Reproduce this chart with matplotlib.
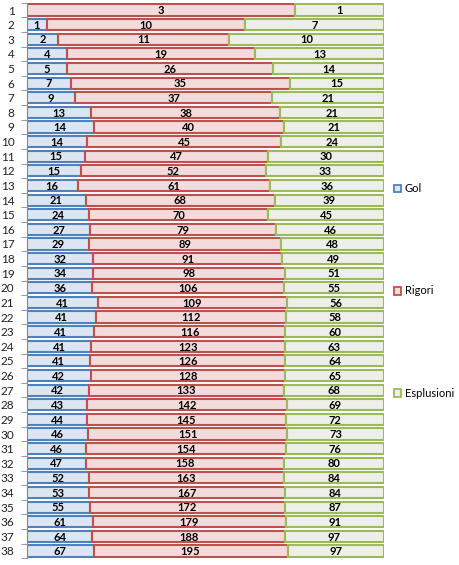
import matplotlib
matplotlib.use("Agg")
import matplotlib.pyplot as plt
from matplotlib.patches import Patch
import numpy as np

# rounds 1..38, top to bottom
rounds = [str(i) for i in range(1, 39)]
gol = [0, 1, 2, 4, 5, 7, 9, 13, 14, 14, 15, 15, 16, 21, 24, 27, 29, 32, 34, 36,
       41, 41, 41, 41, 41, 42, 42, 43, 44, 46, 46, 47, 52, 53, 55, 61, 64, 67]
rigori = [3, 10, 11, 19, 26, 35, 37, 38, 40, 45, 47, 52, 61, 68, 70, 79, 89, 91, 98, 106,
          109, 112, 116, 123, 126, 128, 133, 142, 145, 151, 154, 158, 163, 167, 172, 179, 188, 195]
esplusioni = [1, 7, 10, 13, 14, 15, 21, 21, 21, 24, 30, 33, 36, 39, 45, 46, 48, 49, 51, 55,
              56, 58, 60, 63, 64, 65, 68, 69, 72, 73, 76, 80, 84, 84, 87, 91, 97, 97]

series = [("Gol", gol, "#dce6f2", "#4f81bd"),
          ("Rigori", rigori, "#f2dcdb", "#c0504d"),
          ("Esplusioni", esplusioni, "#eeefea", "#9bbb59")]

plt.rcParams['font.family'] = ['Lato', 'DejaVu Sans']

fig = plt.figure(figsize=(4.6, 5.65), dpi=100)
ax = fig.add_axes([27/460, 1 - 558.3/565, (384 - 27)/460, (558.3 - 2.7)/565])

y = np.arange(len(rounds))
tot = np.array(gol) + np.array(rigori) + np.array(esplusioni)
left = np.zeros(len(rounds))
for name, vals, fc, ec in series:
    v = np.array(vals, dtype=float)
    w = v / tot
    ax.barh(y, w, left=left, height=0.76, color=fc, edgecolor=ec, linewidth=1.5)
    for i in range(len(v)):
        if v[i] > 0:
            ax.text(left[i] + w[i] / 2, y[i] + 0.05, str(int(v[i])), ha="center", va="center",
                    fontsize=8, fontweight="bold", color="black")
    left = left + w

ax.set_xlim(0, 1)
ax.set_ylim(len(rounds) - 0.5, -0.5)
ax.set_yticks(y)
ax.set_yticklabels(rounds, fontsize=8.5, color="#222222")
ax.set_yticks(np.arange(-0.5, len(rounds)), minor=True)
ax.tick_params(axis="y", which="major", length=0, pad=9)
ax.tick_params(axis="y", which="minor", length=4, color="#888888")
ax.set_xticks([])
for s in ["top", "right", "bottom"]:
    ax.spines[s].set_visible(False)
ax.spines["left"].set_color("#888888")

handles = [Patch(facecolor=fc, edgecolor=ec, linewidth=1.3, label=name) for name, _, fc, ec in series]
fig.legend(handles=handles, loc="center left", bbox_to_anchor=(388/460, 1 - 291/565),
           frameon=False, fontsize=8, labelspacing=8.2, handlelength=0.7, handleheight=0.7,
           handletextpad=0.3, borderpad=0)

fig.savefig("out.png", dpi=100)
plt.close()
